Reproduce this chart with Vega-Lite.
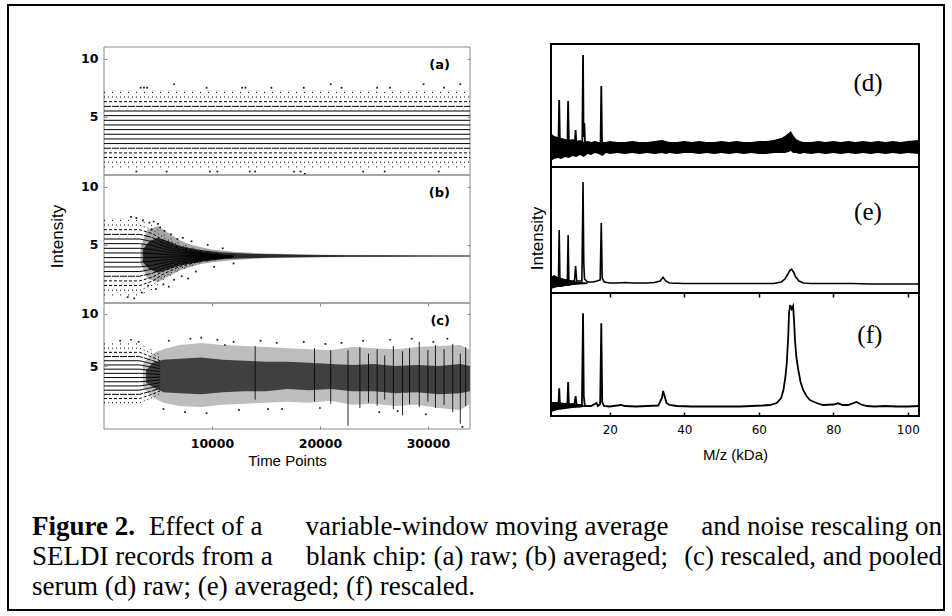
{
"$schema":"https://vega.github.io/schema/vega-lite/v6.json",
"width":936,"height":605,"autosize":"none",
"padding":{"left":8,"top":5,"right":8,"bottom":6},
"background":"white",
"config":{"view":{"stroke":"black","strokeWidth":2},"axis":{"grid":false,"domain":false,"labelFlush":false,"labelOverlap":false}},
"datasets":{
"lvA":[{"g":1,"s":"s1","t":0,"v":0.7},{"g":1,"s":"s1","t":33900,"v":0.7},{"g":2,"s":"s2","t":0,"v":1.1},{"g":2,"s":"s2","t":33900,"v":1.1},{"g":3,"s":"s3","t":0,"v":1.5},{"g":3,"s":"s3","t":33900,"v":1.5},{"g":4,"s":"s3","t":0,"v":1.9},{"g":4,"s":"s3","t":33900,"v":1.9},{"g":5,"s":"s4","t":0,"v":2.3},{"g":5,"s":"s4","t":33900,"v":2.3},{"g":6,"s":"solid","t":0,"v":2.7},{"g":6,"s":"solid","t":33900,"v":2.7},{"g":7,"s":"solid","t":0,"v":3.1},{"g":7,"s":"solid","t":33900,"v":3.1},{"g":8,"s":"solid","t":0,"v":3.5},{"g":8,"s":"solid","t":33900,"v":3.5},{"g":9,"s":"solid","t":0,"v":3.9},{"g":9,"s":"solid","t":33900,"v":3.9},{"g":10,"s":"solid","t":0,"v":4.3},{"g":10,"s":"solid","t":33900,"v":4.3},{"g":11,"s":"solid","t":0,"v":4.7},{"g":11,"s":"solid","t":33900,"v":4.7},{"g":12,"s":"solid","t":0,"v":5.1},{"g":12,"s":"solid","t":33900,"v":5.1},{"g":13,"s":"solid","t":0,"v":5.5},{"g":13,"s":"solid","t":33900,"v":5.5},{"g":14,"s":"s4","t":0,"v":5.9},{"g":14,"s":"s4","t":33900,"v":5.9},{"g":15,"s":"s3","t":0,"v":6.3},{"g":15,"s":"s3","t":33900,"v":6.3},{"g":16,"s":"s2","t":0,"v":6.7},{"g":16,"s":"s2","t":33900,"v":6.7},{"g":17,"s":"s1","t":0,"v":7.1},{"g":17,"s":"s1","t":33900,"v":7.1}],
"lvB":[
{"g":1,"s":"s1","t":0,"v":0.7},{"g":1,"s":"s1","t":3300,"v":0.7},{"g":1,"s":"s1","t":4500,"v":1.2},{"g":1,"s":"s1","t":5500,"v":2.02},{"g":1,"s":"s1","t":7000,"v":2.85},{"g":1,"s":"s1","t":9000,"v":3.5},{"g":1,"s":"s1","t":12000,"v":4.0},
{"g":2,"s":"s2","t":0,"v":1.1},{"g":2,"s":"s2","t":3300,"v":1.1},{"g":2,"s":"s2","t":4500,"v":1.54},{"g":2,"s":"s2","t":5500,"v":2.26},{"g":2,"s":"s2","t":7000,"v":2.98},{"g":2,"s":"s2","t":9000,"v":3.57},{"g":2,"s":"s2","t":12000,"v":4.0},
{"g":3,"s":"s3","t":0,"v":1.5},{"g":3,"s":"s3","t":3300,"v":1.5},{"g":3,"s":"s3","t":4500,"v":1.88},{"g":3,"s":"s3","t":5500,"v":2.5},{"g":3,"s":"s3","t":7000,"v":3.13},{"g":3,"s":"s3","t":9000,"v":3.63},{"g":3,"s":"s3","t":12000,"v":4.0},
{"g":4,"s":"s3","t":0,"v":1.9},{"g":4,"s":"s3","t":3300,"v":1.9},{"g":4,"s":"s3","t":4500,"v":2.22},{"g":4,"s":"s3","t":5500,"v":2.74},{"g":4,"s":"s3","t":7000,"v":3.27},{"g":4,"s":"s3","t":9000,"v":3.69},{"g":4,"s":"s3","t":12000,"v":4.0},
{"g":5,"s":"s4","t":0,"v":2.3},{"g":5,"s":"s4","t":3300,"v":2.3},{"g":5,"s":"s4","t":4500,"v":2.56},{"g":5,"s":"s4","t":5500,"v":2.98},{"g":5,"s":"s4","t":7000,"v":3.4},{"g":5,"s":"s4","t":9000,"v":3.75},{"g":5,"s":"s4","t":12000,"v":4.0},
{"g":6,"s":"solid","t":0,"v":2.7},{"g":6,"s":"solid","t":3300,"v":2.7},{"g":6,"s":"solid","t":4500,"v":2.9},{"g":6,"s":"solid","t":5500,"v":3.22},{"g":6,"s":"solid","t":7000,"v":3.55},{"g":6,"s":"solid","t":9000,"v":3.8},{"g":6,"s":"solid","t":12000,"v":4.0},
{"g":7,"s":"solid","t":0,"v":3.1},{"g":7,"s":"solid","t":3300,"v":3.1},{"g":7,"s":"solid","t":4500,"v":3.24},{"g":7,"s":"solid","t":5500,"v":3.46},{"g":7,"s":"solid","t":7000,"v":3.69},{"g":7,"s":"solid","t":9000,"v":3.87},{"g":7,"s":"solid","t":12000,"v":4.0},
{"g":8,"s":"solid","t":0,"v":3.5},{"g":8,"s":"solid","t":3300,"v":3.5},{"g":8,"s":"solid","t":4500,"v":3.58},{"g":8,"s":"solid","t":5500,"v":3.7},{"g":8,"s":"solid","t":7000,"v":3.83},{"g":8,"s":"solid","t":9000,"v":3.93},{"g":8,"s":"solid","t":12000,"v":4.0},
{"g":9,"s":"solid","t":0,"v":3.9},{"g":9,"s":"solid","t":3300,"v":3.9},{"g":9,"s":"solid","t":4500,"v":3.92},{"g":9,"s":"solid","t":5500,"v":3.94},{"g":9,"s":"solid","t":7000,"v":3.97},{"g":9,"s":"solid","t":9000,"v":3.99},{"g":9,"s":"solid","t":12000,"v":4.0},
{"g":10,"s":"solid","t":0,"v":4.3},{"g":10,"s":"solid","t":3300,"v":4.3},{"g":10,"s":"solid","t":4500,"v":4.26},{"g":10,"s":"solid","t":5500,"v":4.18},{"g":10,"s":"solid","t":7000,"v":4.1},{"g":10,"s":"solid","t":9000,"v":4.05},{"g":10,"s":"solid","t":12000,"v":4.0},
{"g":11,"s":"solid","t":0,"v":4.7},{"g":11,"s":"solid","t":3300,"v":4.7},{"g":11,"s":"solid","t":4500,"v":4.6},{"g":11,"s":"solid","t":5500,"v":4.42},{"g":11,"s":"solid","t":7000,"v":4.25},{"g":11,"s":"solid","t":9000,"v":4.1},{"g":11,"s":"solid","t":12000,"v":4.0},
{"g":12,"s":"solid","t":0,"v":5.1},{"g":12,"s":"solid","t":3300,"v":5.1},{"g":12,"s":"solid","t":4500,"v":4.94},{"g":12,"s":"solid","t":5500,"v":4.66},{"g":12,"s":"solid","t":7000,"v":4.39},{"g":12,"s":"solid","t":9000,"v":4.17},{"g":12,"s":"solid","t":12000,"v":4.0},
{"g":13,"s":"solid","t":0,"v":5.5},{"g":13,"s":"solid","t":3300,"v":5.5},{"g":13,"s":"solid","t":4500,"v":5.28},{"g":13,"s":"solid","t":5500,"v":4.9},{"g":13,"s":"solid","t":7000,"v":4.53},{"g":13,"s":"solid","t":9000,"v":4.23},{"g":13,"s":"solid","t":12000,"v":4.0},
{"g":14,"s":"s4","t":0,"v":5.9},{"g":14,"s":"s4","t":3300,"v":5.9},{"g":14,"s":"s4","t":4500,"v":5.62},{"g":14,"s":"s4","t":5500,"v":5.14},{"g":14,"s":"s4","t":7000,"v":4.67},{"g":14,"s":"s4","t":9000,"v":4.29},{"g":14,"s":"s4","t":12000,"v":4.0},
{"g":15,"s":"s3","t":0,"v":6.3},{"g":15,"s":"s3","t":3300,"v":6.3},{"g":15,"s":"s3","t":4500,"v":5.96},{"g":15,"s":"s3","t":5500,"v":5.38},{"g":15,"s":"s3","t":7000,"v":4.81},{"g":15,"s":"s3","t":9000,"v":4.35},{"g":15,"s":"s3","t":12000,"v":4.0},
{"g":16,"s":"s2","t":0,"v":6.7},{"g":16,"s":"s2","t":3300,"v":6.7},{"g":16,"s":"s2","t":4500,"v":6.3},{"g":16,"s":"s2","t":5500,"v":5.62},{"g":16,"s":"s2","t":7000,"v":4.95},{"g":16,"s":"s2","t":9000,"v":4.4},{"g":16,"s":"s2","t":12000,"v":4.0},
{"g":17,"s":"s1","t":0,"v":7.1},{"g":17,"s":"s1","t":3300,"v":7.1},{"g":17,"s":"s1","t":4500,"v":6.64},{"g":17,"s":"s1","t":5500,"v":5.86},{"g":17,"s":"s1","t":7000,"v":5.09},{"g":17,"s":"s1","t":9000,"v":4.47},{"g":17,"s":"s1","t":12000,"v":4.0}],
"lvC":[
{"g":3,"s":"s2","t":0,"v":1.5},{"g":3,"s":"s2","t":3300,"v":1.5},{"g":3,"s":"s2","t":4500,"v":2.0},{"g":3,"s":"s2","t":5200,"v":2.38},
{"g":4,"s":"s3","t":0,"v":1.9},{"g":4,"s":"s3","t":3300,"v":1.9},{"g":4,"s":"s3","t":4500,"v":2.32},{"g":4,"s":"s3","t":5200,"v":2.64},
{"g":5,"s":"s4","t":0,"v":2.3},{"g":5,"s":"s4","t":3300,"v":2.3},{"g":5,"s":"s4","t":4500,"v":2.64},{"g":5,"s":"s4","t":5200,"v":2.9},
{"g":6,"s":"solid","t":0,"v":2.7},{"g":6,"s":"solid","t":3300,"v":2.7},{"g":6,"s":"solid","t":4500,"v":2.96},{"g":6,"s":"solid","t":5200,"v":3.16},
{"g":7,"s":"solid","t":0,"v":3.1},{"g":7,"s":"solid","t":3300,"v":3.1},{"g":7,"s":"solid","t":4500,"v":3.28},{"g":7,"s":"solid","t":5200,"v":3.42},
{"g":8,"s":"solid","t":0,"v":3.5},{"g":8,"s":"solid","t":3300,"v":3.5},{"g":8,"s":"solid","t":4500,"v":3.6},{"g":8,"s":"solid","t":5200,"v":3.68},
{"g":9,"s":"solid","t":0,"v":3.9},{"g":9,"s":"solid","t":3300,"v":3.9},{"g":9,"s":"solid","t":4500,"v":3.92},{"g":9,"s":"solid","t":5200,"v":3.94},
{"g":10,"s":"solid","t":0,"v":4.3},{"g":10,"s":"solid","t":3300,"v":4.3},{"g":10,"s":"solid","t":4500,"v":4.24},{"g":10,"s":"solid","t":5200,"v":4.2},
{"g":11,"s":"solid","t":0,"v":4.7},{"g":11,"s":"solid","t":3300,"v":4.7},{"g":11,"s":"solid","t":4500,"v":4.56},{"g":11,"s":"solid","t":5200,"v":4.46},
{"g":12,"s":"solid","t":0,"v":5.1},{"g":12,"s":"solid","t":3300,"v":5.1},{"g":12,"s":"solid","t":4500,"v":4.88},{"g":12,"s":"solid","t":5200,"v":4.72},
{"g":13,"s":"solid","t":0,"v":5.5},{"g":13,"s":"solid","t":3300,"v":5.5},{"g":13,"s":"solid","t":4500,"v":5.2},{"g":13,"s":"solid","t":5200,"v":4.98},
{"g":14,"s":"s4","t":0,"v":5.9},{"g":14,"s":"s4","t":3300,"v":5.9},{"g":14,"s":"s4","t":4500,"v":5.52},{"g":14,"s":"s4","t":5200,"v":5.24},
{"g":15,"s":"s3","t":0,"v":6.3},{"g":15,"s":"s3","t":3300,"v":6.3},{"g":15,"s":"s3","t":4500,"v":5.84},{"g":15,"s":"s3","t":5200,"v":5.5},
{"g":16,"s":"s2","t":0,"v":6.7},{"g":16,"s":"s2","t":3300,"v":6.7},{"g":16,"s":"s2","t":4500,"v":6.16},{"g":16,"s":"s2","t":5200,"v":5.76},
{"g":17,"s":"s1","t":0,"v":7.1},{"g":17,"s":"s1","t":3300,"v":7.1},{"g":17,"s":"s1","t":4500,"v":6.48},{"g":17,"s":"s1","t":5200,"v":6.02}],
"ptA":[{"t":3400,"v":7.5},{"t":3700,"v":7.5},{"t":4000,"v":7.5},{"t":6500,"v":7.8},{"t":9500,"v":7.5},{"t":12800,"v":7.5},{"t":13100,"v":7.5},{"t":15500,"v":7.5},{"t":18500,"v":7.5},{"t":21000,"v":7.8},{"t":22000,"v":7.5},{"t":25300,"v":7.5},{"t":26500,"v":7.5},{"t":29600,"v":7.8},{"t":31500,"v":7.5},{"t":33000,"v":7.8},{"t":3000,"v":0.3},{"t":5800,"v":0.3},{"t":9800,"v":0.3},{"t":10500,"v":0.3},{"t":13500,"v":0.3},{"t":14000,"v":0.3},{"t":17600,"v":0.3},{"t":18200,"v":0.3},{"t":18600,"v":0.1},{"t":24000,"v":0.3},{"t":26000,"v":0.3},{"t":31000,"v":0.3}],
"ptB":[{"t":2500,"v":7.4},{"t":3000,"v":7.3},{"t":3600,"v":7.1},{"t":4200,"v":6.9},{"t":4600,"v":7.0},{"t":5200,"v":6.5},{"t":5600,"v":6.2},{"t":6200,"v":5.9},{"t":7300,"v":5.6},{"t":8100,"v":5.3},{"t":9600,"v":5.0},{"t":11000,"v":4.7},{"t":2200,"v":0.5},{"t":2800,"v":0.4},{"t":3500,"v":0.9},{"t":4800,"v":1.2},{"t":5500,"v":1.6},{"t":6500,"v":2.0},{"t":7200,"v":2.3},{"t":8500,"v":2.7},{"t":10200,"v":3.1},{"t":12000,"v":3.4},{"t":4400,"v":6.3},{"t":5000,"v":6.8},{"t":6800,"v":5.5},{"t":4100,"v":1.5},{"t":6000,"v":1.4},{"t":7800,"v":2.1}],
"ptC":[{"t":1500,"v":7.4},{"t":2500,"v":7.5},{"t":3200,"v":7.3},{"t":6000,"v":7.4},{"t":8000,"v":7.6},{"t":9000,"v":7.7},{"t":10500,"v":7.5},{"t":12000,"v":7.3},{"t":14500,"v":7.4},{"t":16000,"v":7.2},{"t":18500,"v":7.3},{"t":20500,"v":7.1},{"t":24000,"v":7.4},{"t":26500,"v":7.5},{"t":28500,"v":7.6},{"t":31800,"v":7.6},{"t":5500,"v":0.9},{"t":7500,"v":0.6},{"t":9500,"v":0.5},{"t":12500,"v":0.8},{"t":16500,"v":0.9},{"t":20000,"v":1.0},{"t":25500,"v":0.6},{"t":29800,"v":0.4},{"t":33200,"v":-0.8},{"t":11200,"v":7.0},{"t":15200,"v":0.9},{"t":22000,"v":7.2},{"t":27200,"v":0.7},{"t":30500,"v":7.3}],
"bBo":[{"t":3400,"lo":3.4,"hi":4.8},{"t":4000,"lo":2.1,"hi":6.3},{"t":5000,"lo":1.8,"hi":6.6},{"t":6000,"lo":2.3,"hi":6.0},{"t":7000,"lo":2.8,"hi":5.4},{"t":8000,"lo":3.1,"hi":5.0},{"t":9000,"lo":3.35,"hi":4.8},{"t":10000,"lo":3.5,"hi":4.6},{"t":12000,"lo":3.7,"hi":4.4},{"t":15000,"lo":3.85,"hi":4.25},{"t":20000,"lo":3.93,"hi":4.15},{"t":33900,"lo":3.99,"hi":4.09}],
"bBi":[{"t":3600,"lo":3.5,"hi":4.6},{"t":4200,"lo":2.9,"hi":5.3},{"t":5000,"lo":2.6,"hi":5.6},{"t":6000,"lo":2.9,"hi":5.3},{"t":7000,"lo":3.2,"hi":4.9},{"t":8000,"lo":3.4,"hi":4.7},{"t":9000,"lo":3.55,"hi":4.55},{"t":10000,"lo":3.65,"hi":4.45},{"t":11000,"lo":3.75,"hi":4.35},{"t":12500,"lo":3.82,"hi":4.28},{"t":14000,"lo":3.86,"hi":4.22},{"t":16000,"lo":3.9,"hi":4.18},{"t":18000,"lo":3.93,"hi":4.15},{"t":20000,"lo":3.95,"hi":4.13},{"t":23000,"lo":3.97,"hi":4.11},{"t":26000,"lo":3.98,"hi":4.1},{"t":30000,"lo":3.99,"hi":4.09},{"t":33900,"lo":4.0,"hi":4.08}],
"bCo":[{"t":3600,"lo":3.0,"hi":5.2},{"t":4500,"lo":2.0,"hi":6.2},{"t":5500,"lo":1.5,"hi":6.6},{"t":7000,"lo":1.2,"hi":7.0},{"t":9000,"lo":1.1,"hi":7.2},{"t":11000,"lo":1.3,"hi":7.0},{"t":13000,"lo":1.4,"hi":6.9},{"t":15000,"lo":1.5,"hi":6.8},{"t":17000,"lo":1.6,"hi":6.7},{"t":19000,"lo":1.5,"hi":6.6},{"t":21000,"lo":1.7,"hi":6.5},{"t":23000,"lo":1.3,"hi":6.8},{"t":25000,"lo":1.4,"hi":6.7},{"t":27000,"lo":1.2,"hi":6.6},{"t":29000,"lo":1.3,"hi":6.8},{"t":31000,"lo":1.0,"hi":6.9},{"t":33000,"lo":0.8,"hi":7.0},{"t":33900,"lo":1.4,"hi":6.5}],
"bCi":[{"t":3900,"lo":3.4,"hi":4.6},{"t":4500,"lo":3.0,"hi":5.3},{"t":5500,"lo":2.5,"hi":5.6},{"t":7000,"lo":2.4,"hi":5.7},{"t":9000,"lo":2.3,"hi":5.8},{"t":11000,"lo":2.5,"hi":5.6},{"t":13000,"lo":2.6,"hi":5.5},{"t":15000,"lo":2.6,"hi":5.4},{"t":17000,"lo":2.8,"hi":5.4},{"t":19000,"lo":2.7,"hi":5.3},{"t":21000,"lo":2.8,"hi":5.2},{"t":23000,"lo":2.6,"hi":5.1},{"t":25000,"lo":2.6,"hi":5.2},{"t":27000,"lo":2.4,"hi":5.0},{"t":29000,"lo":2.5,"hi":5.1},{"t":31000,"lo":2.3,"hi":5.0},{"t":33000,"lo":2.4,"hi":5.2},{"t":33900,"lo":2.6,"hi":5.0}],
"stC":[{"t":14000,"lo":1.8,"hi":6.9},{"t":19500,"lo":1.6,"hi":6.7},{"t":21000,"lo":1.4,"hi":6.5},{"t":22600,"lo":-0.7,"hi":6.5},{"t":23700,"lo":1.0,"hi":6.8},{"t":24500,"lo":1.5,"hi":6.2},{"t":25300,"lo":1.2,"hi":6.6},{"t":26000,"lo":1.8,"hi":6.0},{"t":26800,"lo":0.9,"hi":6.9},{"t":27650,"lo":0.3,"hi":6.4},{"t":28300,"lo":1.4,"hi":6.7},{"t":29200,"lo":1.1,"hi":7.3},{"t":30000,"lo":1.6,"hi":6.5},{"t":30700,"lo":1.0,"hi":7.0},{"t":31500,"lo":1.3,"hi":6.6},{"t":32300,"lo":0.6,"hi":7.1},{"t":33000,"lo":-0.5,"hi":6.2},{"t":33500,"lo":1.2,"hi":6.8}],
"bD":[{"m":4.2,"lo":6,"hi":34},{"m":5,"lo":8,"hi":31},{"m":6,"lo":9,"hi":30},{"m":7,"lo":8,"hi":29},{"m":8,"lo":10,"hi":28},{"m":9,"lo":9,"hi":27},{"m":10,"lo":11,"hi":28},{"m":11,"lo":10,"hi":26},{"m":12,"lo":12,"hi":27},{"m":13,"lo":10,"hi":25},{"m":14,"lo":13,"hi":26},{"m":15,"lo":12,"hi":25},{"m":16,"lo":14,"hi":26},{"m":17,"lo":13,"hi":25},{"m":18,"lo":11,"hi":25},{"m":19,"lo":14,"hi":25},{"m":20,"lo":13,"hi":26},{"m":22,"lo":14,"hi":25},{"m":24,"lo":13,"hi":25},{"m":26,"lo":14,"hi":26},{"m":28,"lo":13,"hi":25},{"m":30,"lo":14,"hi":25},{"m":32,"lo":13,"hi":26},{"m":34,"lo":14,"hi":27},{"m":35,"lo":13,"hi":26},{"m":36,"lo":14,"hi":25},{"m":38,"lo":13,"hi":25},{"m":40,"lo":14,"hi":26},{"m":42,"lo":14,"hi":25},{"m":44,"lo":13,"hi":26},{"m":46,"lo":14,"hi":25},{"m":48,"lo":13,"hi":25},{"m":50,"lo":14,"hi":26},{"m":52,"lo":13,"hi":25},{"m":54,"lo":14,"hi":26},{"m":56,"lo":13,"hi":25},{"m":58,"lo":14,"hi":25},{"m":60,"lo":13,"hi":26},{"m":62,"lo":13,"hi":26},{"m":64,"lo":14,"hi":27},{"m":66,"lo":14,"hi":29},{"m":67,"lo":14,"hi":31},{"m":68,"lo":15,"hi":34},{"m":68.6,"lo":16,"hi":36},{"m":69.2,"lo":14,"hi":32},{"m":70,"lo":14,"hi":28},{"m":71,"lo":13,"hi":26},{"m":72,"lo":14,"hi":25},{"m":74,"lo":13,"hi":25},{"m":76,"lo":14,"hi":26},{"m":78,"lo":13,"hi":25},{"m":80,"lo":14,"hi":26},{"m":82,"lo":13,"hi":25},{"m":84,"lo":14,"hi":26},{"m":86,"lo":13,"hi":25},{"m":88,"lo":14,"hi":26},{"m":90,"lo":13,"hi":25},{"m":92,"lo":14,"hi":26},{"m":94,"lo":13,"hi":25},{"m":96,"lo":14,"hi":26},{"m":98,"lo":13,"hi":25},{"m":100,"lo":14,"hi":26},{"m":103,"lo":13,"hi":27}],
"lD":[{"m":4.2,"y":20},{"m":6.2,"y":24},{"m":6.4,"y":67},{"m":6.6,"y":24},{"m":8.6,"y":24},{"m":8.8,"y":66},{"m":9.0,"y":24},{"m":10.6,"y":24},{"m":10.8,"y":37},{"m":11.0,"y":24},{"m":12.6,"y":24},{"m":12.8,"y":112},{"m":12.95,"y":30},{"m":13.15,"y":44},{"m":13.35,"y":22},{"m":17.5,"y":22},{"m":17.7,"y":81},{"m":17.9,"y":26},{"m":18.3,"y":20},{"m":103,"y":20}],
"bE":[{"m":4.2,"lo":4,"hi":16},{"m":5,"lo":5,"hi":18},{"m":6,"lo":6,"hi":16},{"m":7,"lo":6,"hi":15},{"m":8,"lo":7,"hi":14},{"m":9,"lo":7,"hi":13},{"m":10,"lo":8,"hi":12},{"m":12,"lo":8.5,"hi":11},{"m":14,"lo":9,"hi":10.5}],
"lE":[{"m":4.2,"y":8},{"m":6.2,"y":12},{"m":6.4,"y":63},{"m":6.6,"y":12},{"m":8.6,"y":13},{"m":8.8,"y":58},{"m":9.0,"y":12},{"m":10.5,"y":12},{"m":10.8,"y":27},{"m":11.1,"y":12},{"m":12.5,"y":12},{"m":12.8,"y":111},{"m":13.0,"y":30},{"m":13.2,"y":14},{"m":14.0,"y":11},{"m":15.5,"y":11},{"m":16.5,"y":12},{"m":17.4,"y":13},{"m":17.7,"y":70},{"m":17.95,"y":15},{"m":18.5,"y":11},{"m":20,"y":10},{"m":22,"y":10},{"m":24,"y":10.5},{"m":26,"y":10},{"m":28,"y":10},{"m":30,"y":10},{"m":32,"y":10.5},{"m":33.5,"y":12},{"m":34.3,"y":15.7},{"m":35,"y":12},{"m":36,"y":10},{"m":40,"y":9.5},{"m":45,"y":9.5},{"m":50,"y":9.5},{"m":55,"y":9.5},{"m":60,"y":9.5},{"m":64,"y":9.5},{"m":66,"y":11},{"m":67,"y":14},{"m":67.8,"y":19},{"m":68.4,"y":23},{"m":68.8,"y":23.7},{"m":69.3,"y":21},{"m":69.9,"y":16},{"m":70.8,"y":12},{"m":72,"y":10},{"m":74,"y":9.5},{"m":80,"y":9.5},{"m":85,"y":9.5},{"m":90,"y":9},{"m":95,"y":9},{"m":100,"y":9},{"m":103,"y":9}],
"bF":[{"m":4.2,"lo":4,"hi":14},{"m":6,"lo":6,"hi":14},{"m":8,"lo":7,"hi":13},{"m":10,"lo":8,"hi":12.5},{"m":12,"lo":8.5,"hi":11.5},{"m":13,"lo":9,"hi":11}],
"lF":[{"m":4.2,"y":8},{"m":5,"y":12},{"m":5.5,"y":9},{"m":6.2,"y":11},{"m":6.4,"y":27.7},{"m":6.6,"y":11},{"m":7.5,"y":12},{"m":8.6,"y":12},{"m":8.8,"y":34},{"m":9.0,"y":11},{"m":10.5,"y":12},{"m":10.8,"y":20},{"m":11.1,"y":11},{"m":12.5,"y":11},{"m":12.8,"y":102.7},{"m":13.0,"y":20},{"m":13.3,"y":10},{"m":15,"y":10},{"m":16.4,"y":13},{"m":16.8,"y":10},{"m":17.4,"y":12},{"m":17.7,"y":92.7},{"m":17.95,"y":14},{"m":18.4,"y":10},{"m":20,"y":9.5},{"m":23,"y":11},{"m":24,"y":10},{"m":27,"y":9.5},{"m":30,"y":10},{"m":33,"y":10.5},{"m":34.0,"y":18},{"m":34.3,"y":25},{"m":34.7,"y":20},{"m":35.2,"y":13},{"m":36,"y":11},{"m":38,"y":10},{"m":42,"y":9.5},{"m":46,"y":9.5},{"m":50,"y":9.5},{"m":55,"y":9.5},{"m":58,"y":10},{"m":61,"y":10.5},{"m":63,"y":11},{"m":64.8,"y":13},{"m":66.0,"y":18},{"m":66.6,"y":26},{"m":67.1,"y":38},{"m":67.5,"y":53},{"m":67.9,"y":80},{"m":68.1,"y":103},{"m":68.4,"y":111},{"m":68.8,"y":107},{"m":69.2,"y":110},{"m":69.5,"y":92},{"m":69.7,"y":76},{"m":70.1,"y":58},{"m":70.6,"y":46},{"m":71.2,"y":34},{"m":71.9,"y":26},{"m":72.8,"y":20},{"m":73.7,"y":16},{"m":75.5,"y":13},{"m":77.2,"y":11},{"m":80,"y":11.5},{"m":81.3,"y":12.7},{"m":82.5,"y":11},{"m":84,"y":11},{"m":86.2,"y":14},{"m":87.5,"y":11.5},{"m":89,"y":10},{"m":91,"y":9.5},{"m":94,"y":10},{"m":97,"y":9.5},{"m":100,"y":9.5},{"m":103,"y":10}]
},
"layer":[
{"data":{"values":[{"t0":0,"t1":33900,"v0":0,"v1":11}]},"mark":{"type":"rect","filled":false,"stroke":"#888888","strokeWidth":1},"encoding":{"x":{"field":"t0","type":"quantitative","scale":{"domain":[0,33900],"range":[96,462],"nice":false,"zero":false},"axis":null},"x2":{"field":"t1"},"y":{"field":"v0","type":"quantitative","scale":{"domain":[0,11],"range":[170,42],"nice":false,"zero":false},"axis":null},"y2":{"field":"v1"}}},
{"data":{"name":"lvA"},"mark":{"type":"line","strokeWidth":1,"color":"black"},"encoding":{"x":{"field":"t","type":"quantitative","scale":{"domain":[0,33900],"range":[96,462],"nice":false,"zero":false},"axis":null},"y":{"field":"v","type":"quantitative","scale":{"domain":[0,11],"range":[170,42],"nice":false,"zero":false},"axis":{"orient":"left","offset":-96,"values":[5,10],"tickSize":-3,"tickColor":"#888888","labelPadding":9,"labelFont":"DejaVu Sans","labelFontWeight":"bold","labelFontSize":12.5,"labelColor":"black","title":null}},"detail":{"field":"g"},"strokeDash":{"field":"s","type":"nominal","scale":{"domain":["solid","s4","s3","s2","s1"],"range":[[1,0],[7,1],[3,2],[1,3],[1,7]]},"legend":null}}},
{"data":{"name":"ptA"},"mark":{"type":"square","size":3,"color":"black","opacity":0.9},"encoding":{"x":{"field":"t","type":"quantitative","scale":{"domain":[0,33900],"range":[96,462],"nice":false,"zero":false},"axis":null},"y":{"field":"v","type":"quantitative","scale":{"domain":[0,11],"range":[170,42],"nice":false,"zero":false},"axis":{"orient":"right","offset":-474,"values":[5,10],"tickSize":-3,"tickColor":"#888888","labels":false,"title":null}}}},
{"data":{"values":[{"t":32050,"v":9.45,"txt":"(a)"}]},"mark":{"type":"text","font":"DejaVu Sans","fontWeight":"bold","fontSize":13,"align":"right","baseline":"middle","color":"black"},"encoding":{"x":{"field":"t","type":"quantitative","scale":{"domain":[0,33900],"range":[96,462],"nice":false,"zero":false},"axis":null},"y":{"field":"v","type":"quantitative","scale":{"domain":[0,11],"range":[170,42],"nice":false,"zero":false},"axis":null},"text":{"field":"txt"}}},

{"data":{"values":[{"t0":0,"t1":33900,"v0":0,"v1":11}]},"mark":{"type":"rect","filled":false,"stroke":"#888888","strokeWidth":1},"encoding":{"x":{"field":"t0","type":"quantitative","scale":{"domain":[0,33900],"range":[96,462],"nice":false,"zero":false},"axis":null},"x2":{"field":"t1"},"y":{"field":"v0","type":"quantitative","scale":{"domain":[0,11],"range":[298,170],"nice":false,"zero":false},"axis":null},"y2":{"field":"v1"}}},
{"data":{"name":"bBo"},"mark":{"type":"area","color":"#a8a8a8"},"encoding":{"x":{"field":"t","type":"quantitative","scale":{"domain":[0,33900],"range":[96,462],"nice":false,"zero":false},"axis":null},"y":{"field":"lo","type":"quantitative","scale":{"domain":[0,11],"range":[298,170],"nice":false,"zero":false},"axis":null},"y2":{"field":"hi"}}},
{"data":{"name":"bBi"},"mark":{"type":"area","color":"#2a2a2a"},"encoding":{"x":{"field":"t","type":"quantitative","scale":{"domain":[0,33900],"range":[96,462],"nice":false,"zero":false},"axis":null},"y":{"field":"lo","type":"quantitative","scale":{"domain":[0,11],"range":[298,170],"nice":false,"zero":false},"axis":null},"y2":{"field":"hi"}}},
{"data":{"name":"lvB"},"mark":{"type":"line","strokeWidth":1,"color":"black"},"encoding":{"x":{"field":"t","type":"quantitative","scale":{"domain":[0,33900],"range":[96,462],"nice":false,"zero":false},"axis":null},"y":{"field":"v","type":"quantitative","scale":{"domain":[0,11],"range":[298,170],"nice":false,"zero":false},"axis":{"orient":"left","offset":-96,"values":[5,10],"tickSize":-3,"tickColor":"#888888","labelPadding":9,"labelFont":"DejaVu Sans","labelFontWeight":"bold","labelFontSize":12.5,"labelColor":"black","title":"Intensity","titleFont":"Liberation Sans","titleFontSize":17,"titleFontWeight":"normal","titleColor":"black","titleAngle":270,"titleX":-47,"titleY":231,"titleBaseline":"middle","titleAlign":"center"}},"detail":{"field":"g"},"strokeDash":{"field":"s","type":"nominal","scale":{"domain":["solid","s4","s3","s2","s1"],"range":[[1,0],[7,1],[3,2],[1,3],[1,7]]},"legend":null}}},
{"data":{"name":"ptB"},"mark":{"type":"square","size":3,"color":"black","opacity":0.9},"encoding":{"x":{"field":"t","type":"quantitative","scale":{"domain":[0,33900],"range":[96,462],"nice":false,"zero":false},"axis":null},"y":{"field":"v","type":"quantitative","scale":{"domain":[0,11],"range":[298,170],"nice":false,"zero":false},"axis":{"orient":"right","offset":-474,"values":[5,10],"tickSize":-3,"tickColor":"#888888","labels":false,"title":null}}}},
{"data":{"values":[{"t":32050,"v":9.45,"txt":"(b)"}]},"mark":{"type":"text","font":"DejaVu Sans","fontWeight":"bold","fontSize":13,"align":"right","baseline":"middle","color":"black"},"encoding":{"x":{"field":"t","type":"quantitative","scale":{"domain":[0,33900],"range":[96,462],"nice":false,"zero":false},"axis":null},"y":{"field":"v","type":"quantitative","scale":{"domain":[0,11],"range":[298,170],"nice":false,"zero":false},"axis":null},"text":{"field":"txt"}}},

{"data":{"values":[{"t0":0,"t1":33900,"v0":-1,"v1":11}]},"mark":{"type":"rect","filled":false,"stroke":"#888888","strokeWidth":1},"encoding":{"x":{"field":"t0","type":"quantitative","scale":{"domain":[0,33900],"range":[96,462],"nice":false,"zero":false},"axis":null},"x2":{"field":"t1"},"y":{"field":"v0","type":"quantitative","scale":{"domain":[-1,11],"range":[424,298],"nice":false,"zero":false},"axis":null},"y2":{"field":"v1"}}},
{"data":{"name":"bCo"},"mark":{"type":"area","color":"#bdbdbd"},"encoding":{"x":{"field":"t","type":"quantitative","scale":{"domain":[0,33900],"range":[96,462],"nice":false,"zero":false},"axis":null},"y":{"field":"lo","type":"quantitative","scale":{"domain":[-1,11],"range":[424,298],"nice":false,"zero":false},"axis":null},"y2":{"field":"hi"}}},
{"data":{"name":"bCi"},"mark":{"type":"area","color":"#404040"},"encoding":{"x":{"field":"t","type":"quantitative","scale":{"domain":[0,33900],"range":[96,462],"nice":false,"zero":false},"axis":null},"y":{"field":"lo","type":"quantitative","scale":{"domain":[-1,11],"range":[424,298],"nice":false,"zero":false},"axis":null},"y2":{"field":"hi"}}},
{"data":{"name":"stC"},"mark":{"type":"rule","color":"black","strokeWidth":1,"opacity":0.85},"encoding":{"x":{"field":"t","type":"quantitative","scale":{"domain":[0,33900],"range":[96,462],"nice":false,"zero":false},"axis":null},"y":{"field":"lo","type":"quantitative","scale":{"domain":[-1,11],"range":[424,298],"nice":false,"zero":false},"axis":null},"y2":{"field":"hi"}}},
{"data":{"name":"lvC"},"mark":{"type":"line","strokeWidth":1,"color":"black"},"encoding":{"x":{"field":"t","type":"quantitative","scale":{"domain":[0,33900],"range":[96,462],"nice":false,"zero":false},"axis":{"orient":"bottom","offset":-181,"values":[10000,20000,30000],"format":"d","tickSize":-3,"tickColor":"#888888","labelPadding":11,"labelFont":"DejaVu Sans","labelFontWeight":"bold","labelFontSize":12.5,"labelColor":"black","title":"Time Points","titleFont":"Liberation Sans","titleFontSize":15,"titleFontWeight":"normal","titleColor":"black","titleX":279,"titleY":31,"titleBaseline":"middle","titleAlign":"center"}},"y":{"field":"v","type":"quantitative","scale":{"domain":[-1,11],"range":[424,298],"nice":false,"zero":false},"axis":{"orient":"left","offset":-96,"values":[5,10],"tickSize":-3,"tickColor":"#888888","labelPadding":9,"labelFont":"DejaVu Sans","labelFontWeight":"bold","labelFontSize":12.5,"labelColor":"black","title":null}},"detail":{"field":"g"},"strokeDash":{"field":"s","type":"nominal","scale":{"domain":["solid","s4","s3","s2","s1"],"range":[[1,0],[7,1],[3,2],[1,3],[1,7]]},"legend":null}}},
{"data":{"name":"ptC"},"mark":{"type":"square","size":3,"color":"black","opacity":0.9},"encoding":{"x":{"field":"t","type":"quantitative","scale":{"domain":[0,33900],"range":[96,462],"nice":false,"zero":false},"axis":{"orient":"top","offset":-298,"values":[10000,20000,30000],"tickSize":-3,"tickColor":"#888888","labels":false,"title":null}},"y":{"field":"v","type":"quantitative","scale":{"domain":[-1,11],"range":[424,298],"nice":false,"zero":false},"axis":{"orient":"right","offset":-474,"values":[5,10],"tickSize":-3,"tickColor":"#888888","labels":false,"title":null}}}},
{"data":{"values":[{"t":32050,"v":9.3,"txt":"(c)"}]},"mark":{"type":"text","font":"DejaVu Sans","fontWeight":"bold","fontSize":13,"align":"right","baseline":"middle","color":"black"},"encoding":{"x":{"field":"t","type":"quantitative","scale":{"domain":[0,33900],"range":[96,462],"nice":false,"zero":false},"axis":null},"y":{"field":"v","type":"quantitative","scale":{"domain":[-1,11],"range":[424,298],"nice":false,"zero":false},"axis":null},"text":{"field":"txt"}}},

{"data":{"values":[{"m0":4.2,"m1":103,"y0":0,"y1":123}]},"mark":{"type":"rect","filled":false,"stroke":"black","strokeWidth":2},"encoding":{"x":{"field":"m0","type":"quantitative","scale":{"domain":[4.2,103],"range":[543,911],"nice":false,"zero":false},"axis":null},"x2":{"field":"m1"},"y":{"field":"y0","type":"quantitative","scale":{"domain":[0,123],"range":[162,39],"nice":false,"zero":false},"axis":null},"y2":{"field":"y1"}}},
{"data":{"name":"bD"},"mark":{"type":"area","color":"black"},"encoding":{"x":{"field":"m","type":"quantitative","scale":{"domain":[4.2,103],"range":[543,911],"nice":false,"zero":false},"axis":null},"y":{"field":"lo","type":"quantitative","scale":{"domain":[0,123],"range":[162,39],"nice":false,"zero":false},"axis":null},"y2":{"field":"hi"}}},
{"data":{"name":"lD"},"mark":{"type":"line","color":"black","strokeWidth":1.8},"encoding":{"x":{"field":"m","type":"quantitative","scale":{"domain":[4.2,103],"range":[543,911],"nice":false,"zero":false},"axis":null},"y":{"field":"y","type":"quantitative","scale":{"domain":[0,123],"range":[162,39],"nice":false,"zero":false},"axis":null}}},
{"data":{"values":[{"m":89.3,"y":84,"txt":"(d)"}]},"mark":{"type":"text","font":"Liberation Serif","fontSize":25,"align":"center","baseline":"middle","color":"black"},"encoding":{"x":{"field":"m","type":"quantitative","scale":{"domain":[4.2,103],"range":[543,911],"nice":false,"zero":false},"axis":null},"y":{"field":"y","type":"quantitative","scale":{"domain":[0,123],"range":[162,39],"nice":false,"zero":false},"axis":null},"text":{"field":"txt"}}},

{"data":{"values":[{"m0":4.2,"m1":103,"y0":0,"y1":126}]},"mark":{"type":"rect","filled":false,"stroke":"black","strokeWidth":2},"encoding":{"x":{"field":"m0","type":"quantitative","scale":{"domain":[4.2,103],"range":[543,911],"nice":false,"zero":false},"axis":null},"x2":{"field":"m1"},"y":{"field":"y0","type":"quantitative","scale":{"domain":[0,126],"range":[288,162],"nice":false,"zero":false},"axis":null},"y2":{"field":"y1"}}},
{"data":{"name":"bE"},"mark":{"type":"area","color":"black"},"encoding":{"x":{"field":"m","type":"quantitative","scale":{"domain":[4.2,103],"range":[543,911],"nice":false,"zero":false},"axis":null},"y":{"field":"lo","type":"quantitative","scale":{"domain":[0,126],"range":[288,162],"nice":false,"zero":false},"axis":null},"y2":{"field":"hi"}}},
{"data":{"name":"lE"},"mark":{"type":"line","color":"black","strokeWidth":1.6},"encoding":{"x":{"field":"m","type":"quantitative","scale":{"domain":[4.2,103],"range":[543,911],"nice":false,"zero":false},"axis":null},"y":{"field":"y","type":"quantitative","scale":{"domain":[0,126],"range":[288,162],"nice":false,"zero":false},"axis":{"orient":"left","offset":-543,"ticks":false,"labels":false,"title":"Intensity","titleFont":"Liberation Sans","titleFontSize":17,"titleFontWeight":"normal","titleColor":"black","titleAngle":270,"titleX":-14,"titleY":233,"titleBaseline":"middle","titleAlign":"center"}}}},
{"data":{"values":[{"m":89.3,"y":81,"txt":"(e)"}]},"mark":{"type":"text","font":"Liberation Serif","fontSize":25,"align":"center","baseline":"middle","color":"black"},"encoding":{"x":{"field":"m","type":"quantitative","scale":{"domain":[4.2,103],"range":[543,911],"nice":false,"zero":false},"axis":null},"y":{"field":"y","type":"quantitative","scale":{"domain":[0,126],"range":[288,162],"nice":false,"zero":false},"axis":null},"text":{"field":"txt"}}},

{"data":{"values":[{"m0":4.2,"m1":103,"y0":0,"y1":123}]},"mark":{"type":"rect","filled":false,"stroke":"black","strokeWidth":2},"encoding":{"x":{"field":"m0","type":"quantitative","scale":{"domain":[4.2,103],"range":[543,911],"nice":false,"zero":false},"axis":null},"x2":{"field":"m1"},"y":{"field":"y0","type":"quantitative","scale":{"domain":[0,123],"range":[411,288],"nice":false,"zero":false},"axis":null},"y2":{"field":"y1"}}},
{"data":{"name":"bF"},"mark":{"type":"area","color":"black"},"encoding":{"x":{"field":"m","type":"quantitative","scale":{"domain":[4.2,103],"range":[543,911],"nice":false,"zero":false},"axis":null},"y":{"field":"lo","type":"quantitative","scale":{"domain":[0,123],"range":[411,288],"nice":false,"zero":false},"axis":null},"y2":{"field":"hi"}}},
{"data":{"name":"lF"},"mark":{"type":"line","color":"black","strokeWidth":1.8},"encoding":{"x":{"field":"m","type":"quantitative","scale":{"domain":[4.2,103],"range":[543,911],"nice":false,"zero":false},"axis":{"orient":"bottom","offset":-194,"values":[20,40,60,80,100],"tickSize":-4,"tickColor":"black","tickWidth":1.5,"labelPadding":12,"labelFont":"DejaVu Sans","labelFontSize":12,"labelColor":"black","title":"M/z (kDa)","titleFont":"Liberation Sans","titleFontSize":15,"titleFontWeight":"normal","titleColor":"black","titleX":727,"titleY":38,"titleBaseline":"middle","titleAlign":"center"}},"y":{"field":"y","type":"quantitative","scale":{"domain":[0,123],"range":[411,288],"nice":false,"zero":false},"axis":null}}},
{"data":{"values":[{"m":89.8,"y":81,"txt":"(f)"}]},"mark":{"type":"text","font":"Liberation Serif","fontSize":25,"align":"center","baseline":"middle","color":"black"},"encoding":{"x":{"field":"m","type":"quantitative","scale":{"domain":[4.2,103],"range":[543,911],"nice":false,"zero":false},"axis":{"orient":"top","offset":-288,"values":[20,40,60,80,100],"tickSize":-4,"tickColor":"black","tickWidth":1.5,"labels":false,"title":null}},"y":{"field":"y","type":"quantitative","scale":{"domain":[0,123],"range":[411,288],"nice":false,"zero":false},"axis":null},"text":{"field":"txt"}}},

{"data":{"values":[{"x":0,"line":1,"txt":"Figure 2."}]},"mark":{"type":"text","font":"Liberation Serif","fontSize":27,"fontWeight":"bold","align":"left","baseline":"alphabetic","color":"black"},"encoding":{"x":{"field":"x","type":"quantitative","scale":{"domain":[0,1],"range":[24,934],"nice":false,"zero":false},"axis":null},"y":{"field":"line","type":"quantitative","scale":{"domain":[1,3],"range":[530,590],"nice":false,"zero":false},"axis":null},"text":{"field":"txt"}}},
{"data":{"values":[{"x":0,"line":1,"txt":"Effect of a"}]},"mark":{"type":"text","font":"Liberation Serif","fontSize":27,"align":"left","baseline":"alphabetic","color":"black","dx":117},"encoding":{"x":{"field":"x","type":"quantitative","scale":{"domain":[0,1],"range":[24,934],"nice":false,"zero":false},"axis":null},"y":{"field":"line","type":"quantitative","scale":{"domain":[1,3],"range":[530,590],"nice":false,"zero":false},"axis":null},"text":{"field":"txt"}}},
{"data":{"values":[{"x":0.5,"line":1,"txt":"variable-window moving average"},{"x":0.5,"line":2,"txt":"blank chip: (a) raw; (b) averaged;"}]},"mark":{"type":"text","font":"Liberation Serif","fontSize":27,"align":"center","baseline":"alphabetic","color":"black"},"encoding":{"x":{"field":"x","type":"quantitative","scale":{"domain":[0,1],"range":[24,934],"nice":false,"zero":false},"axis":null},"y":{"field":"line","type":"quantitative","scale":{"domain":[1,3],"range":[530,590],"nice":false,"zero":false},"axis":null},"text":{"field":"txt"}}},
{"data":{"values":[{"x":1,"line":1,"txt":"and noise rescaling on"},{"x":1,"line":2,"txt":"(c) rescaled, and pooled"}]},"mark":{"type":"text","font":"Liberation Serif","fontSize":27,"align":"right","baseline":"alphabetic","color":"black"},"encoding":{"x":{"field":"x","type":"quantitative","scale":{"domain":[0,1],"range":[24,934],"nice":false,"zero":false},"axis":null},"y":{"field":"line","type":"quantitative","scale":{"domain":[1,3],"range":[530,590],"nice":false,"zero":false},"axis":null},"text":{"field":"txt"}}},
{"data":{"values":[{"x":0,"line":2,"txt":"SELDI records from a"},{"x":0,"line":3,"txt":"serum (d) raw; (e) averaged; (f) rescaled."}]},"mark":{"type":"text","font":"Liberation Serif","fontSize":27,"align":"left","baseline":"alphabetic","color":"black"},"encoding":{"x":{"field":"x","type":"quantitative","scale":{"domain":[0,1],"range":[24,934],"nice":false,"zero":false},"axis":null},"y":{"field":"line","type":"quantitative","scale":{"domain":[1,3],"range":[530,590],"nice":false,"zero":false},"axis":null},"text":{"field":"txt"}}}
],
"resolve":{"scale":{"x":"independent","y":"independent","strokeDash":"independent"},"axis":{"x":"independent","y":"independent"}}
}
